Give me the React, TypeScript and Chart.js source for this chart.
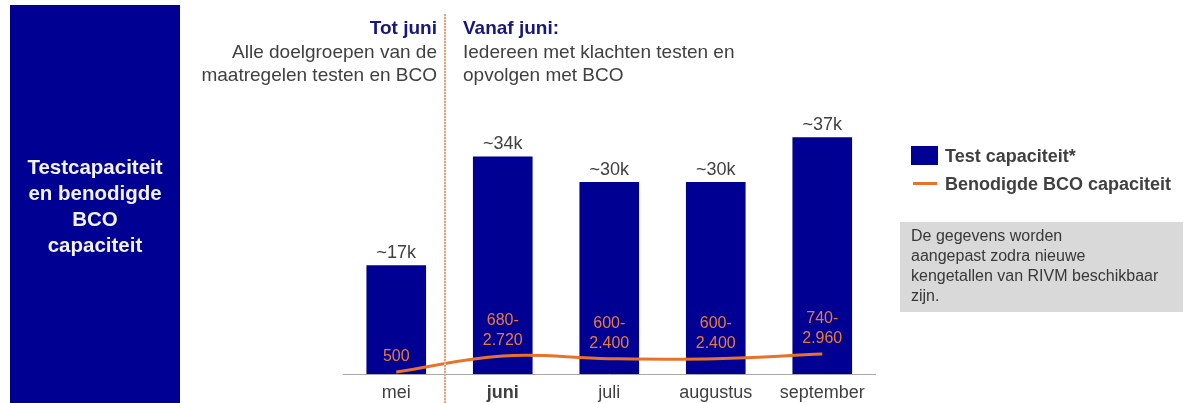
import React, { useEffect, useRef } from "react";
import { Chart, registerables } from "chart.js";

Chart.register(...registerables);

const months = ["mei", "juni", "juli", "augustus", "september"];
const testCapacity = [17000, 34000, 30000, 30000, 37000];
const testLabels = ["~17k", "~34k", "~30k", "~30k", "~37k"];
const bcoCapacity = [500, 1700, 1500, 1500, 1850];
const bcoLabels = [["500"], ["680-", "2.720"], ["600-", "2.400"], ["600-", "2.400"], ["740-", "2.960"]];

const FONT = '"Liberation Sans", Arial, Helvetica, sans-serif';
const BLUE = "#000092";
const ORANGE = "#E8722C";
const GREY_TEXT = "#404040";
const NAVY = "#161680";

const labelPlugin = {
  id: "valueLabels",
  afterDatasetsDraw(chart: any) {
    const ctx = chart.ctx;
    ctx.save();
    ctx.textAlign = "center";
    ctx.textBaseline = "middle";
    const barMeta = chart.getDatasetMeta(1);
    ctx.font = `18px ${FONT}`;
    ctx.fillStyle = GREY_TEXT;
    barMeta.data.forEach((el: any, i: number) => {
      ctx.fillText(testLabels[i], el.x, el.y - 12);
    });
    const lineMeta = chart.getDatasetMeta(0);
    ctx.font = `16px ${FONT}`;
    ctx.fillStyle = "#EA7A3C";
    lineMeta.data.forEach((pt: any, i: number) => {
      const lines = bcoLabels[i];
      lines.forEach((t, j) => {
        ctx.fillText(t, pt.x, pt.y - 15 - (lines.length - 1 - j) * 20);
      });
    });
    ctx.restore();
  },
};

function Text({ x, y, children, align = "left", size = 19, bold = false, color = GREY_TEXT, lh = 23 }: any) {
  const style: any = {
    position: "absolute",
    top: y - lh / 2,
    height: lh,
    lineHeight: lh + "px",
    fontSize: size,
    fontWeight: bold ? "bold" : "normal",
    color,
    fontFamily: FONT,
    whiteSpace: "nowrap",
  };
  if (align === "right") {
    style.right = 1187 - x;
    style.textAlign = "right";
  } else if (align === "center") {
    style.left = x - 150;
    style.width = 300;
    style.textAlign = "center";
  } else {
    style.left = x;
  }
  return <div style={style}>{children}</div>;
}

export default function App() {
  const canvasRef = useRef<HTMLCanvasElement | null>(null);

  useEffect(() => {
    if (!canvasRef.current) return;
    const chart = new Chart(canvasRef.current, {
      type: "bar",
      data: {
        labels: months,
        datasets: [
          {
            type: "line",
            label: "Benodigde BCO capaciteit",
            data: bcoCapacity,
            borderColor: ORANGE,
            borderWidth: 3,
            pointRadius: 0,
            tension: 0.4,
            yAxisID: "y2",
            order: 0,
          } as any,
          {
            type: "bar",
            label: "Test capaciteit*",
            data: testCapacity,
            backgroundColor: BLUE,
            barPercentage: 0.56,
            categoryPercentage: 1,
            yAxisID: "y",
            order: 1,
          },
        ],
      },
      options: {
        responsive: false,
        animation: false,
        devicePixelRatio: 1,
        layout: { padding: { left: 343, right: 311.5, top: 118, bottom: 8.4 } },
        plugins: { legend: { display: false }, tooltip: { enabled: false } },
        scales: {
          x: {
            grid: { display: false, drawTicks: false },
            border: { display: true, color: "#a8a8a8", width: 1 },
            ticks: {
              padding: 8,
              color: GREY_TEXT,
              font: (c: any) => ({ family: FONT, size: 18, weight: c.index === 1 ? "bold" : "normal" }),
            },
          },
          y: { display: false, min: 0, max: 40000 },
          y2: { display: false, min: 350, max: 19550 },
        },
      },
      plugins: [labelPlugin],
    });
    return () => chart.destroy();
  }, []);

  return (
    <div
      style={{
        position: "absolute",
        left: 0,
        top: 0,
        width: 1187,
        height: 403,
        overflow: "hidden",
        background: "#ffffff",
        fontFamily: FONT,
      }}
    >
      <canvas ref={canvasRef} width={1187} height={420} style={{ position: "absolute", left: 0, top: 0 }} />

      {/* left panel */}
      <div style={{ position: "absolute", left: 10, top: 5, width: 170, height: 398, background: BLUE }} />
      <Text x={95} y={167} align="center" size={20.5} bold color="#f2f2f2" lh={26}>Testcapaciteit</Text>
      <Text x={95} y={193} align="center" size={20.5} bold color="#f2f2f2" lh={26}>en benodigde</Text>
      <Text x={95} y={219} align="center" size={20.5} bold color="#f2f2f2" lh={26}>BCO</Text>
      <Text x={95} y={245} align="center" size={20.5} bold color="#f2f2f2" lh={26}>capaciteit</Text>

      {/* divider */}
      <div
        style={{
          position: "absolute",
          left: 444,
          top: 14,
          width: 2,
          height: 389,
          backgroundImage: "repeating-linear-gradient(to bottom, #e9a47a 0px, #e9a47a 2px, #f7dccb 2px, #f7dccb 3px)",
        }}
      />

      {/* headers */}
      <Text x={437} y={27} align="right" bold color={NAVY}>Tot juni</Text>
      <Text x={437} y={51} align="right">Alle doelgroepen van de</Text>
      <Text x={437} y={74} align="right">maatregelen testen en BCO</Text>
      <Text x={463} y={27} bold color={NAVY}>Vanaf juni:</Text>
      <Text x={463} y={51}>Iedereen met klachten testen en</Text>
      <Text x={463} y={74}>opvolgen met BCO</Text>

      {/* legend */}
      <div style={{ position: "absolute", left: 911, top: 146, width: 27, height: 19, background: BLUE }} />
      <Text x={945} y={156} size={18} bold>Test capaciteit*</Text>
      <div style={{ position: "absolute", left: 913, top: 182, width: 24, height: 3, background: ORANGE }} />
      <Text x={945} y={184} size={18} bold>Benodigde BCO capaciteit</Text>

      {/* note box */}
      <div style={{ position: "absolute", left: 900, top: 222, width: 283, height: 90, background: "#d9d9d9" }} />
      <Text x={911} y={236} size={16} color="#383838" lh={20}>De gegevens worden</Text>
      <Text x={911} y={256} size={16} color="#383838" lh={20}>aangepast zodra nieuwe</Text>
      <Text x={911} y={276} size={16} color="#383838" lh={20}>kengetallen van RIVM beschikbaar</Text>
      <Text x={911} y={296} size={16} color="#383838" lh={20}>zijn.</Text>
    </div>
  );
}
